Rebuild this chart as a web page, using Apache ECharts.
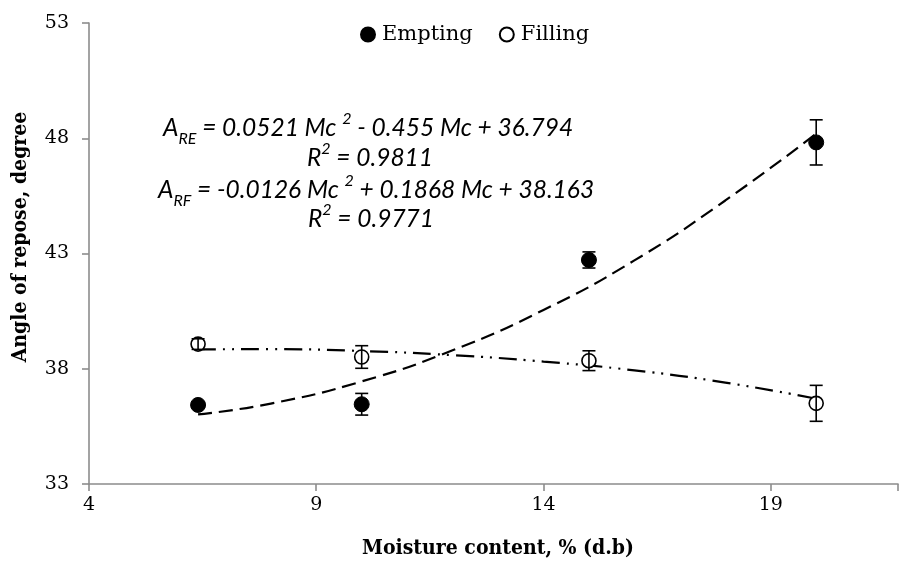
<!DOCTYPE html>
<html lang="en">
<head>
<meta charset="UTF-8">
<title>Angle of repose</title>
<script src="https://cdn.jsdelivr.net/npm/echarts@6/dist/echarts.min.js"></script>
<style>
    html, body { margin: 0; padding: 0; background: #fff; }
    #main { width: 901px; height: 562px; }
</style>
</head>
<body>
<div id="main"></div>
<script>
    // measured points
    var moisture = [6.4, 10, 15, 20];
    var emptying = [36.43, 36.46, 42.72, 47.82];
    var emptyingErr = [0.1, 0.47, 0.35, 0.98];
    var filling = [39.07, 38.51, 38.35, 36.5];
    var fillingErr = [0.23, 0.49, 0.43, 0.78];

    // trend lines
    var trendX = [6.4, 8, 10, 12, 14, 16, 18, 20];
    var emptyingTrend = [36.02, 36.49, 37.45, 38.8, 40.55, 42.7, 45.3, 48.2];
    var fillingTrend = [38.84, 38.85, 38.77, 38.59, 38.31, 37.93, 37.4, 36.7];

    var xTicks = [4, 9, 14, 19];
    var yTicks = [33, 38, 43, 48, 53];

    function pairs(xs, ys) {
        return xs.map(function (x, i) { return [x, ys[i]]; });
    }
    function bars(ys, errs) {
        return moisture.map(function (x, i) { return [x, ys[i] - errs[i], ys[i] + errs[i]]; });
    }
    function renderBar(params, api) {
        var lo = api.coord([api.value(0), api.value(1)]);
        var hi = api.coord([api.value(0), api.value(2)]);
        var w = 6.5;
        var st = { stroke: '#000', lineWidth: 1.6 };
        return {
            type: 'group',
            children: [
                { type: 'line', shape: { x1: lo[0], y1: lo[1], x2: hi[0], y2: hi[1] }, style: st },
                { type: 'line', shape: { x1: lo[0] - w, y1: lo[1], x2: lo[0] + w, y2: lo[1] }, style: st },
                { type: 'line', shape: { x1: hi[0] - w, y1: hi[1], x2: hi[0] + w, y2: hi[1] }, style: st }
            ]
        };
    }

    var axisGray = '#8c8c8c';
    var serif = 'DejaVu Serif';
    var eqFont = 'Lato';

    var eqRich = {
        m: { fontFamily: eqFont, fontStyle: 'italic', fontSize: 24.5, color: '#000', verticalAlign: 'middle' },
        sub: { fontFamily: eqFont, fontStyle: 'italic', fontSize: 16, color: '#000', verticalAlign: 'bottom', padding: [0, 0, -6, 0] },
        sup: { fontFamily: eqFont, fontStyle: 'italic', fontSize: 16, color: '#000', verticalAlign: 'top', padding: [-5, 0, 0, 0] }
    };

    var myChart = echarts.init(document.getElementById('main'));
    var option = {
        backgroundColor: '#fff',
        animation: false,
        grid: { left: 89, right: 0, top: 23, bottom: 78 },
        legend: {
            data: ['Empting', 'Filling'],
            left: 355,
            top: 19,
            icon: 'circle',
            itemWidth: 14,
            itemHeight: 14,
            itemGap: 26,
            textStyle: { fontFamily: serif, fontSize: 21, color: '#000', padding: [0, 0, 0, 2] }
        },
        xAxis: {
            type: 'value',
            min: 4,
            max: 21.8,
            interval: 5,
            splitLine: { show: false },
            axisLine: { lineStyle: { color: axisGray, width: 1.6 } },
            axisTick: { inside: false, length: 7, lineStyle: { color: axisGray, width: 1.6 } },
            axisLabel: {
                margin: 12,
                fontFamily: serif,
                fontSize: 19,
                color: '#000',
                formatter: function (v) { return xTicks.indexOf(v) >= 0 ? String(v) : ''; }
            }
        },
        yAxis: {
            type: 'value',
            min: 33,
            max: 53,
            interval: 5,
            splitLine: { show: false },
            axisLine: { lineStyle: { color: axisGray, width: 1.6 } },
            axisTick: { inside: false, length: 7, lineStyle: { color: axisGray, width: 1.6 } },
            axisLabel: {
                margin: 20,
                fontFamily: serif,
                fontSize: 19,
                color: '#000',
                formatter: function (v) { return yTicks.indexOf(v) >= 0 ? String(v) : ''; }
            }
        },
        graphic: [
            {
                type: 'text', x: 498, y: 549,
                style: { text: 'Moisture content, % (d.b)', align: 'center', verticalAlign: 'middle',
                    fontFamily: 'DejaVu Serif Condensed', fontWeight: 'bold', fontSize: 21, fill: '#000' }
            },
            {
                type: 'text', x: 21, y: 237, rotation: Math.PI / 2,
                style: { text: 'Angle of repose, degree', align: 'center', verticalAlign: 'middle',
                    fontFamily: 'DejaVu Serif Condensed', fontWeight: 'bold', fontSize: 21, fill: '#000' }
            },
            {
                type: 'text', x: 163, y: 128,
                style: { text: '{m|A}{sub|RE}{m| = 0.0521 Mc }{sup|2}{m| - 0.455 Mc + 36.794}',
                    rich: eqRich, align: 'left', verticalAlign: 'middle' }
            },
            {
                type: 'text', x: 370, y: 158,
                style: { text: '{m|R}{sup|2}{m| = 0.9811}', rich: eqRich, align: 'center', verticalAlign: 'middle' }
            },
            {
                type: 'text', x: 158, y: 190,
                style: { text: '{m|A}{sub|RF}{m| = -0.0126 Mc }{sup|2}{m| + 0.1868 Mc + 38.163}',
                    rich: eqRich, align: 'left', verticalAlign: 'middle' }
            },
            {
                type: 'text', x: 371, y: 219,
                style: { text: '{m|R}{sup|2}{m| = 0.9771}', rich: eqRich, align: 'center', verticalAlign: 'middle' }
            }
        ],
        series: [
            {
                name: 'Empting trend',
                type: 'line',
                data: pairs(trendX, emptyingTrend),
                smooth: true,
                showSymbol: false,
                lineStyle: { color: '#000', width: 2.2, type: [14, 7] },
                z: 1
            },
            {
                name: 'Filling trend',
                type: 'line',
                data: pairs(trendX, fillingTrend),
                smooth: true,
                showSymbol: false,
                lineStyle: { color: '#000', width: 2.2, type: [18, 7, 2, 7, 2, 7] },
                z: 1
            },
            {
                name: 'Empting',
                type: 'scatter',
                data: pairs(moisture, emptying),
                symbol: 'circle',
                symbolSize: 15,
                itemStyle: { color: '#000', borderColor: '#000', borderWidth: 1, opacity: 1 },
                z: 3
            },
            {
                name: 'Filling',
                type: 'scatter',
                data: pairs(moisture, filling),
                symbol: 'circle',
                symbolSize: 14,
                itemStyle: { color: '#fff', borderColor: '#000', borderWidth: 1.6, opacity: 1 },
                z: 3
            },
            {
                type: 'custom',
                data: bars(emptying, emptyingErr),
                renderItem: renderBar,
                z: 4
            },
            {
                type: 'custom',
                data: bars(filling, fillingErr),
                renderItem: renderBar,
                z: 4
            }
        ]
    };
    myChart.setOption(option);
</script>
</body>
</html>
